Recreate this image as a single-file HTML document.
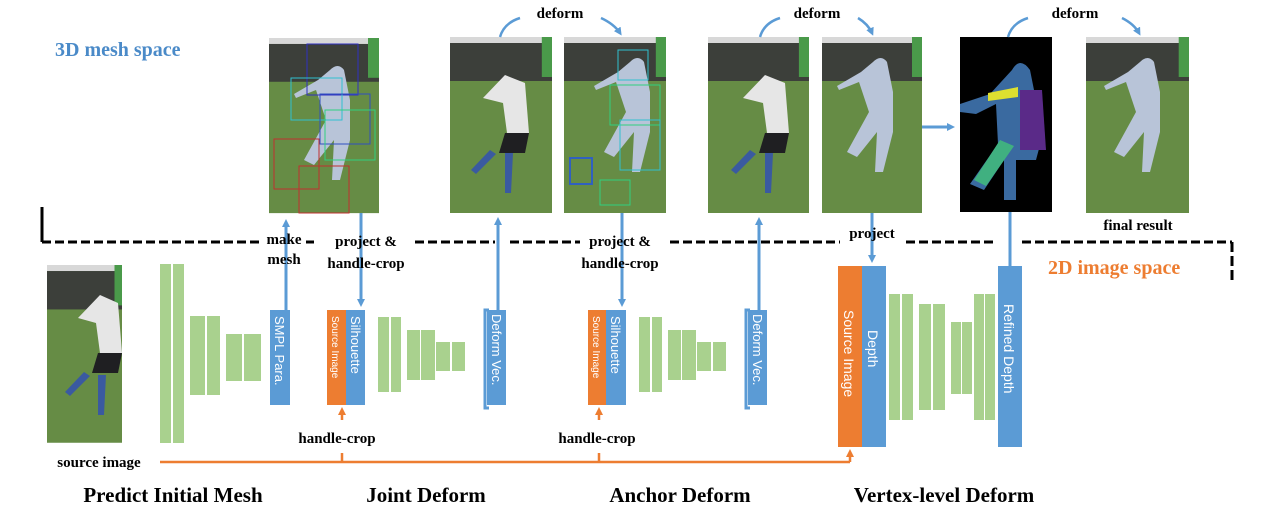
<!DOCTYPE html>
<html><head><meta charset="utf-8"><style>
body{margin:0;background:#fff;}
svg{display:block;font-family:"Liberation Serif",serif;}
.b{font-weight:bold;}
</style></head><body>
<svg width="1276" height="527" viewBox="0 0 1276 527" xmlns="http://www.w3.org/2000/svg">
<defs>
<g id="photo">
<rect x="0" y="0" width="100" height="176" fill="#668c45"/>
<rect x="0" y="0" width="100" height="6" fill="#d8d8d8"/>
<rect x="0" y="6" width="100" height="38" fill="#3c3f3a"/>
<rect x="90" y="0" width="10" height="40" fill="#4a9a4a"/>
</g>
<marker id="ab" markerWidth="8" markerHeight="8" refX="5" refY="4" orient="auto" markerUnits="userSpaceOnUse"><path d="M0,0 L8,4 L0,8 Z" fill="#5b9bd5"/></marker>
<marker id="ao" markerWidth="8" markerHeight="8" refX="5" refY="4" orient="auto" markerUnits="userSpaceOnUse"><path d="M0,0 L8,4 L0,8 Z" fill="#ed7d31"/></marker>
</defs>

<text x="55" y="56" class="b" font-size="20" fill="#4a8ac8">3D mesh space</text>
<text x="1048" y="274" class="b" font-size="20" fill="#ed7d31">2D image space</text>

<!-- dashed boundary -->
<g stroke="#000" stroke-width="3" fill="none">
<line x1="42" y1="207" x2="42" y2="242"/>
<path d="M42,242 H262" stroke-dasharray="9,4"/>
<path d="M306,242 H314" />
<path d="M415,242 H495" stroke-dasharray="9,4"/>
<path d="M510,242 H580" stroke-dasharray="9,4"/>
<path d="M670,242 H840" stroke-dasharray="9,4"/>
<path d="M906,242 H993" stroke-dasharray="9,4"/>
<path d="M1022,242 H1232" stroke-dasharray="9,4"/>
<line x1="1232" y1="242" x2="1232" y2="282" stroke-dasharray="10,4"/>
</g>

<!-- photos -->
<use href="#photo" transform="translate(269,38) scale(1.1,0.995)"/>
<use href="#photo" transform="translate(450,37) scale(1.02,1.0)"/>
<use href="#photo" transform="translate(564,37) scale(1.02,1.0)"/>
<use href="#photo" transform="translate(708,37) scale(1.01,1.0)"/>
<use href="#photo" transform="translate(822,37) scale(1.0,1.0)"/>
<use href="#photo" transform="translate(1086,37) scale(1.03,1.0)"/>
<use href="#photo" transform="translate(47,265) scale(0.75,1.01)"/>
<rect x="960" y="37" width="92" height="175" fill="#000"/>
<!-- figure shapes -->
<g fill="#b8c4d8">
<path d="M330,70 q8,-8 14,0 l6,30 l0,40 l-10,40 l-8,0 l2,-40 l-20,25 l-10,-5 l22,-40 l-10,-30 l-20,8 l-2,-4 l24,-14 z"/>
<path d="M873,62 q8,-8 14,0 l6,30 l0,40 l-10,40 l-8,0 l2,-40 l-20,25 l-10,-5 l22,-40 l-10,-30 l-20,8 l-2,-4 l24,-14 z"/>
<path d="M1140,62 q8,-8 14,0 l6,30 l0,40 l-10,40 l-8,0 l2,-40 l-20,25 l-10,-5 l22,-40 l-10,-30 l-20,8 l-2,-4 l24,-14 z"/>
<path d="M630,62 q8,-8 14,0 l6,30 l0,40 l-10,40 l-8,0 l2,-40 l-20,25 l-10,-5 l22,-40 l-10,-30 l-20,8 l-2,-4 l24,-14 z"/>
</g>
<g fill="#e6e6e6">
<path d="M505,75 l20,8 l4,50 l-22,0 l-4,-30 l-20,-5 z"/>
<path d="M765,75 l20,8 l4,50 l-22,0 l-4,-30 l-20,-5 z"/>
<path d="M100,295 l18,8 l4,50 l-22,0 l-4,-30 l-18,-5 z"/>
</g>
<g fill="#1f1f22">
<path d="M505,133 l24,0 l-4,20 l-26,0 z"/>
<path d="M765,133 l24,0 l-4,20 l-26,0 z"/>
<path d="M98,353 l24,0 l-4,20 l-26,0 z"/>
</g>
<g fill="#3a5aa0">
<path d="M505,153 l8,0 l-2,40 l-6,0z M490,150 l6,4 l-20,20 l-5,-4z"/>
<path d="M765,153 l8,0 l-2,40 l-6,0z M750,150 l6,4 l-20,20 l-5,-4z"/>
<path d="M98,375 l8,0 l-2,40 l-6,0z M84,372 l6,4 l-20,20 l-5,-4z"/>
</g>
<!-- depth figure -->
<path d="M1012,70 q8,-14 18,0 l4,20 l10,40 l-8,30 l-20,0 l0,40 l-12,0 l0,-40 l-20,30 l-14,-6 l28,-40 l-2,-40 l-20,10 l-16,-2 l0,-8 l30,-10 z" fill="#3a6aa0"/>
<path d="M988,93 l30,-6 l0,10 l-30,4z" fill="#dde030"/>
<path d="M1000,140 l14,6 l-28,40 l-12,-6 z" fill="#40b080"/>
<path d="M1020,90 l22,0 l4,60 l-26,0 z" fill="#5a2a88"/>
<!-- bbox overlays -->
<g fill="none" stroke-width="1">
<rect x="307" y="44" width="51" height="51" stroke="#3030c0"/>
<rect x="291" y="78" width="51" height="42" stroke="#30c0d0"/>
<rect x="320" y="94" width="50" height="50" stroke="#3050c0"/>
<rect x="325" y="110" width="50" height="50" stroke="#30d080"/>
<rect x="274" y="139" width="45" height="50" stroke="#c03030"/>
<rect x="299" y="166" width="50" height="47" stroke="#c03030"/>
<rect x="618" y="50" width="30" height="30" stroke="#30c0d0"/>
<rect x="610" y="85" width="50" height="40" stroke="#30d080"/>
<rect x="620" y="120" width="40" height="50" stroke="#30c0d0"/>
<rect x="570" y="158" width="22" height="26" stroke="#3060c0" stroke-width="2"/>
<rect x="600" y="180" width="30" height="25" stroke="#30d080"/>
</g>

<!-- deform arcs -->
<g stroke="#5b9bd5" stroke-width="2.5" fill="none">
<path d="M500,37 Q504,23 520,18" /><path d="M601,18 Q614,24 620,33" marker-end="url(#ab)"/>
<path d="M760,37 Q764,23 780,18" /><path d="M858,18 Q868,24 872,33" marker-end="url(#ab)"/>
<path d="M1008,37 Q1012,23 1028,18" /><path d="M1122,18 Q1134,24 1139,33" marker-end="url(#ab)"/>
</g>
<g class="b" font-size="15" text-anchor="middle">
<text x="560" y="18">deform</text>
<text x="817" y="18">deform</text>
<text x="1075" y="18">deform</text>
</g>

<!-- blue connectors -->
<g stroke="#5b9bd5" stroke-width="3" fill="none">
<line x1="286" y1="310" x2="286" y2="222" marker-end="url(#ab)"/>
<line x1="361" y1="213" x2="361" y2="304" marker-end="url(#ab)"/>
<line x1="498" y1="310" x2="498" y2="220" marker-end="url(#ab)"/>
<line x1="622" y1="213" x2="622" y2="304" marker-end="url(#ab)"/>
<line x1="759" y1="310" x2="759" y2="220" marker-end="url(#ab)"/>
<line x1="872" y1="213" x2="872" y2="260" marker-end="url(#ab)"/>
<line x1="1010" y1="266" x2="1010" y2="212"/>
<line x1="922" y1="127" x2="952" y2="127" marker-end="url(#ab)"/>
<path d="M489,310 h-4 v98 h4"/>
<path d="M750,310 h-4 v98 h4"/>
</g>
<!-- orange connectors -->
<g stroke="#ed7d31" stroke-width="2.5" fill="none">
<line x1="160" y1="462" x2="850" y2="462"/>
<line x1="850" y1="462" x2="850" y2="452" marker-end="url(#ao)"/>
<line x1="342" y1="462" x2="342" y2="453"/>
<line x1="342" y1="420" x2="342" y2="410" marker-end="url(#ao)"/>
<line x1="599" y1="462" x2="599" y2="453"/>
<line x1="599" y1="420" x2="599" y2="410" marker-end="url(#ao)"/>
</g>

<!-- green bars -->
<g fill="#a9d18e">
<rect x="160" y="264" width="11" height="179"/><rect x="173" y="264" width="11" height="179"/>
<rect x="190" y="316" width="15" height="79"/><rect x="207" y="316" width="13" height="79"/>
<rect x="226" y="334" width="16" height="47"/><rect x="244" y="334" width="17" height="47"/>
<rect x="378" y="317" width="11" height="75"/><rect x="391" y="317" width="10" height="75"/>
<rect x="407" y="330" width="13" height="50"/><rect x="421" y="330" width="14" height="50"/>
<rect x="436" y="342" width="14" height="29"/><rect x="452" y="342" width="13" height="29"/>
<rect x="639" y="317" width="11" height="75"/><rect x="652" y="317" width="10" height="75"/>
<rect x="668" y="330" width="13" height="50"/><rect x="682" y="330" width="14" height="50"/>
<rect x="697" y="342" width="14" height="29"/><rect x="713" y="342" width="13" height="29"/>
<rect x="889" y="294" width="11" height="126"/><rect x="902" y="294" width="11" height="126"/>
<rect x="919" y="304" width="12" height="106"/><rect x="933" y="304" width="12" height="106"/>
<rect x="951" y="322" width="10" height="72"/><rect x="962" y="322" width="10" height="72"/>
<rect x="974" y="294" width="10" height="126"/><rect x="985" y="294" width="10" height="126"/>
</g>

<!-- blocks -->
<g>
<rect x="270" y="310" width="20" height="95" fill="#5b9bd5"/>
<rect x="327" y="310" width="19" height="95" fill="#ed7d31"/><rect x="346" y="310" width="19" height="95" fill="#5b9bd5"/>
<rect x="487" y="310" width="19" height="95" fill="#5b9bd5"/>
<rect x="588" y="310" width="18" height="95" fill="#ed7d31"/><rect x="606" y="310" width="20" height="95" fill="#5b9bd5"/>
<rect x="748" y="310" width="19" height="95" fill="#5b9bd5"/>
<rect x="838" y="266" width="24" height="181" fill="#ed7d31"/><rect x="862" y="266" width="24" height="181" fill="#5b9bd5"/>
<rect x="998" y="266" width="24" height="181" fill="#5b9bd5"/>
</g>
<g fill="#fff" font-family="Liberation Sans, sans-serif">
<text transform="translate(275,316) rotate(90)" font-size="13">SMPL Para.</text>
<text transform="translate(332,316) rotate(90)" font-size="10">Source Image</text>
<text transform="translate(351,316) rotate(90)" font-size="13">Silhouette</text>
<text transform="translate(492,314) rotate(90)" font-size="13">Deform Vec.</text>
<text transform="translate(593,316) rotate(90)" font-size="10">Source Image</text>
<text transform="translate(611,316) rotate(90)" font-size="13">Silhouette</text>
<text transform="translate(753,314) rotate(90)" font-size="13">Deform Vec.</text>
<text transform="translate(844,310) rotate(90)" font-size="14">Source Image</text>
<text transform="translate(868,330) rotate(90)" font-size="14">Depth</text>
<text transform="translate(1004,304) rotate(90)" font-size="14">Refined Depth</text>
</g>

<!-- labels -->
<g class="b" font-size="15" text-anchor="middle">
<text x="284" y="244">make</text><text x="284" y="264">mesh</text>
<text x="366" y="246">project &amp;</text><text x="366" y="268">handle-crop</text>
<text x="620" y="246">project &amp;</text><text x="620" y="268">handle-crop</text>
<text x="872" y="238">project</text>
<text x="1138" y="230">final result</text>
<text x="337" y="443">handle-crop</text>
<text x="597" y="443">handle-crop</text>
<text x="99" y="467">source image</text>
</g>
<g class="b" font-size="21" text-anchor="middle">
<text x="173" y="502">Predict Initial Mesh</text>
<text x="426" y="502">Joint Deform</text>
<text x="680" y="502">Anchor Deform</text>
<text x="944" y="502">Vertex-level Deform</text>
</g>
</svg>
</body></html>
